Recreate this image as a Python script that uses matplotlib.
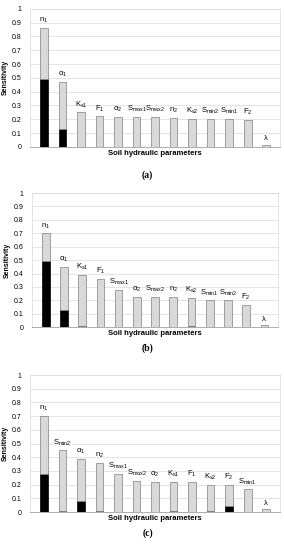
import matplotlib
matplotlib.use("Agg")
import matplotlib.pyplot as plt

plt.rcParams["font.family"] = ["Liberation Sans", "DejaVu Sans"]
plt.rcParams["mathtext.fontset"] = "custom"
plt.rcParams["mathtext.rm"] = "Liberation Sans"
plt.rcParams["mathtext.default"] = "regular"

# panel (a)
labels_a = [r"n$_1$", r"α$_1$", r"K$_{s1}$", r"F$_1$", r"α$_2$", r"S$_{max1}$", r"S$_{max2}$",
            r"n$_2$", r"K$_{s2}$", r"S$_{min2}$", r"S$_{min1}$", r"F$_2$", "λ"]
total_a = [0.86, 0.47, 0.25, 0.22, 0.215, 0.215, 0.215, 0.21, 0.205, 0.20, 0.20, 0.195, 0.015]
first_a = [0.49, 0.13, 0, 0, 0, 0, 0, 0, 0, 0, 0, 0, 0]

# panel (b)
labels_b = [r"n$_1$", r"α$_1$", r"K$_{s1}$", r"F$_1$", r"S$_{max1}$", r"α$_2$", r"S$_{max2}$",
            r"n$_2$", r"K$_{s2}$", r"S$_{min1}$", r"S$_{min2}$", r"F$_2$", "λ"]
total_b = [0.70, 0.45, 0.39, 0.36, 0.28, 0.225, 0.225, 0.225, 0.22, 0.20, 0.20, 0.165, 0.015]
first_b = [0.49, 0.13, 0.008, 0, 0, 0, 0, 0, 0.008, 0, 0, 0, 0]

# panel (c)
labels_c = [r"n$_1$", r"S$_{min2}$", r"α$_1$", r"n$_2$", r"S$_{max1}$", r"S$_{max2}$", r"α$_2$",
            r"K$_{s1}$", r"F$_1$", r"K$_{s2}$", r"F$_2$", r"S$_{min1}$", "λ"]
total_c = [0.70, 0.45, 0.39, 0.36, 0.28, 0.23, 0.22, 0.22, 0.22, 0.20, 0.20, 0.165, 0.02]
first_c = [0.28, 0.01, 0.08, 0.005, 0, 0, 0, 0.01, 0, 0.01, 0.045, 0, 0]

captions = ["(a)", "(b)", "(c)"]
panels = [(labels_a, total_a, first_a), (labels_b, total_b, first_b), (labels_c, total_c, first_c)]
# left, bottom, width, height in figure fractions
boxes = [(0.106, 0.733, 0.88, 0.251),
         (0.113, 0.405, 0.866, 0.244),
         (0.106, 0.069, 0.88, 0.249)]
caption_y = [0.682, 0.367, 0.031]

fig = plt.figure(figsize=(2.84, 5.5), dpi=100)

for (labels, total, first), box, cap, cy in zip(panels, boxes, captions, caption_y):
    ax = fig.add_axes(box)
    x = range(len(labels))
    rest = [t - f for t, f in zip(total, first)]
    ax.bar(x, first, width=0.42, color="black", edgecolor="black", linewidth=0.5, zorder=3)
    ax.bar(x, rest, bottom=first, width=0.42, color="#d9d9d9", edgecolor="#808080",
           linewidth=0.5, zorder=3)
    for xi, t, lab in zip(x, total, labels):
        ax.text(xi, t + 0.02, lab, ha="center", va="bottom", fontsize=5.5)
    ax.set_xlim(-0.75, len(labels) - 0.25)
    ax.set_ylim(0, 1)
    ax.set_yticks([i / 10 for i in range(11)])
    ax.set_yticklabels(["0"] + [f"{i / 10:g}" for i in range(1, 10)] + ["1"])
    ax.tick_params(axis="y", labelsize=5, length=0, pad=6)
    ax.set_xticks([])
    ax.grid(axis="y", color="#d9d9d9", linewidth=0.5, zorder=0)
    for side in ["left", "right", "top"]:
        ax.spines[side].set_color("#d9d9d9")
        ax.spines[side].set_linewidth(0.5)
    ax.spines["bottom"].set_color("#a0a0a0")
    ax.spines["bottom"].set_linewidth(0.6)
    ax.set_ylabel("Sensitivity", fontsize=5, fontweight="bold", labelpad=2)
    ax.set_xlabel("Soil hydraulic parameters", fontsize=5.5, fontweight="bold", labelpad=2)
    fig.text(0.52, cy, cap, ha="center", va="center", fontsize=7,
             fontweight="bold", family="Liberation Serif")

fig.savefig("out.png", dpi=100)
